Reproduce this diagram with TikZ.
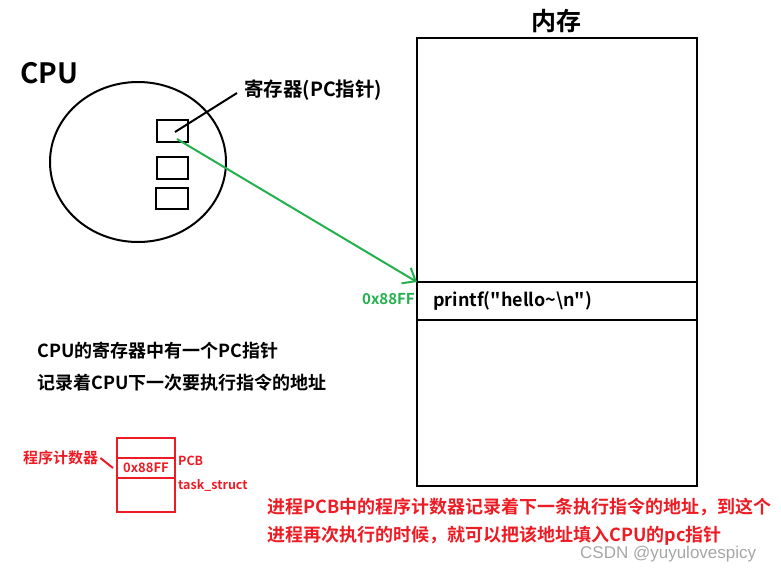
\documentclass[tikz,border=0pt]{standalone}
\usepackage{fontspec}
\setmainfont{Noto Sans CJK SC}[BoldFont={* Bold}]
\newfontfamily\cjkb{Noto Sans CJK SC Bold}
\newfontfamily\wm{Liberation Sans}
\usetikzlibrary{arrows.meta}
\definecolor{pred}{RGB}{237,28,36}
\definecolor{pgreen}{RGB}{34,177,76}
\tikzset{
  thick2/.style={line width=2pt},
  reg/.style={draw, line width=2pt},
  lbl/.style={inner sep=0pt, anchor=west, font=\cjkb\fontsize{18}{21}\selectfont},
  redlbl/.style={lbl, text=pred},
}
\begin{document}
\begin{tikzpicture}[x=1pt,y=-1pt]
\useasboundingbox (0,0) rectangle (781,568);
% memory
\node[inner sep=0pt, font=\cjkb\fontsize{25}{28}\selectfont] (memt) at (556,21) {内存};
\draw[thick2] (417,38) rectangle (697,486);
\coordinate (ml1) at (417,282); \coordinate (mr1) at (697,282);
\coordinate (ml2) at (417,320); \coordinate (mr2) at (697,320);
\draw[thick2] (ml1) -- (mr1);
\draw[thick2] (ml2) -- (mr2);
\node[lbl] (printf) at (433,301) {printf("hello\textasciitilde\textbackslash n")};
\node[lbl, text=pgreen, font=\cjkb\fontsize{15}{18}\selectfont] (addr) at (362,299) {0x88FF};
% CPU
\node[inner sep=0pt, font=\cjkb\fontsize{28}{32}\selectfont] (cpu) at (49,73) {CPU};
\draw[thick2] (138,162) ellipse [x radius=88, y radius=80];
\draw[reg] (157,120) rectangle (188,142);
\draw[reg] (157,157) rectangle (188,179);
\draw[reg] (156,188) rectangle (188,209);
\coordinate (r1in) at (175,132);
\coordinate (r1g) at (177,139);
\node[lbl, font=\cjkb\fontsize{19.5}{22}\selectfont] (reglbl) at (244,90) {寄存器(PC指针)};
\coordinate (lblend) at (237,93);
\draw[thick2] (r1in) -- (lblend);
\draw[line width=2pt, pgreen, -{Straight Barb[length=11pt,width=18pt,line width=2pt]}] (r1g) -- (ml1);
% description
\node[lbl] (d1) at (37,351) {CPU的寄存器中有一个PC指针};
\node[lbl] (d2) at (37,383) {记录着CPU下一次要执行指令的地址};
% PCB
\draw[reg, pred] (117,438) rectangle (175,512);
\draw[reg, pred] (117,458) -- (175,458);
\draw[reg, pred] (117,478) -- (175,478);
\node[inner sep=0pt, text=pred, font=\cjkb\fontsize{13}{15}\selectfont] (pcaddr) at (146,468) {0x88FF};
\node[redlbl, font=\cjkb\fontsize{12.5}{14}\selectfont] (pcb) at (178,461) {PCB};
\node[redlbl, font=\cjkb\fontsize{12.5}{14}\selectfont] (ts) at (178,485) {task\_struct};
\node[redlbl, font=\cjkb\fontsize{15}{17}\selectfont] (pcnt) at (23,458) {程序计数器};
\coordinate (pcline) at (113,468);
\draw[line width=2pt, pred] (pcnt.east) ++(2,0) -- (pcline);
% bottom note
\node[redlbl] (n1) at (267,507) {进程PCB中的程序计数器记录着下一条执行指令的地址，到这个};
\node[redlbl] (n2) at (267,536) {进程再次执行的时候，就可以把该地址填入CPU的pc指针};
\node[inner sep=0pt, anchor=west, text=black!35, font=\wm\fontsize{17}{19}\selectfont] (wmk) at (580,554) {CSDN @yuyulovespicy};
\end{tikzpicture}
\end{document}
